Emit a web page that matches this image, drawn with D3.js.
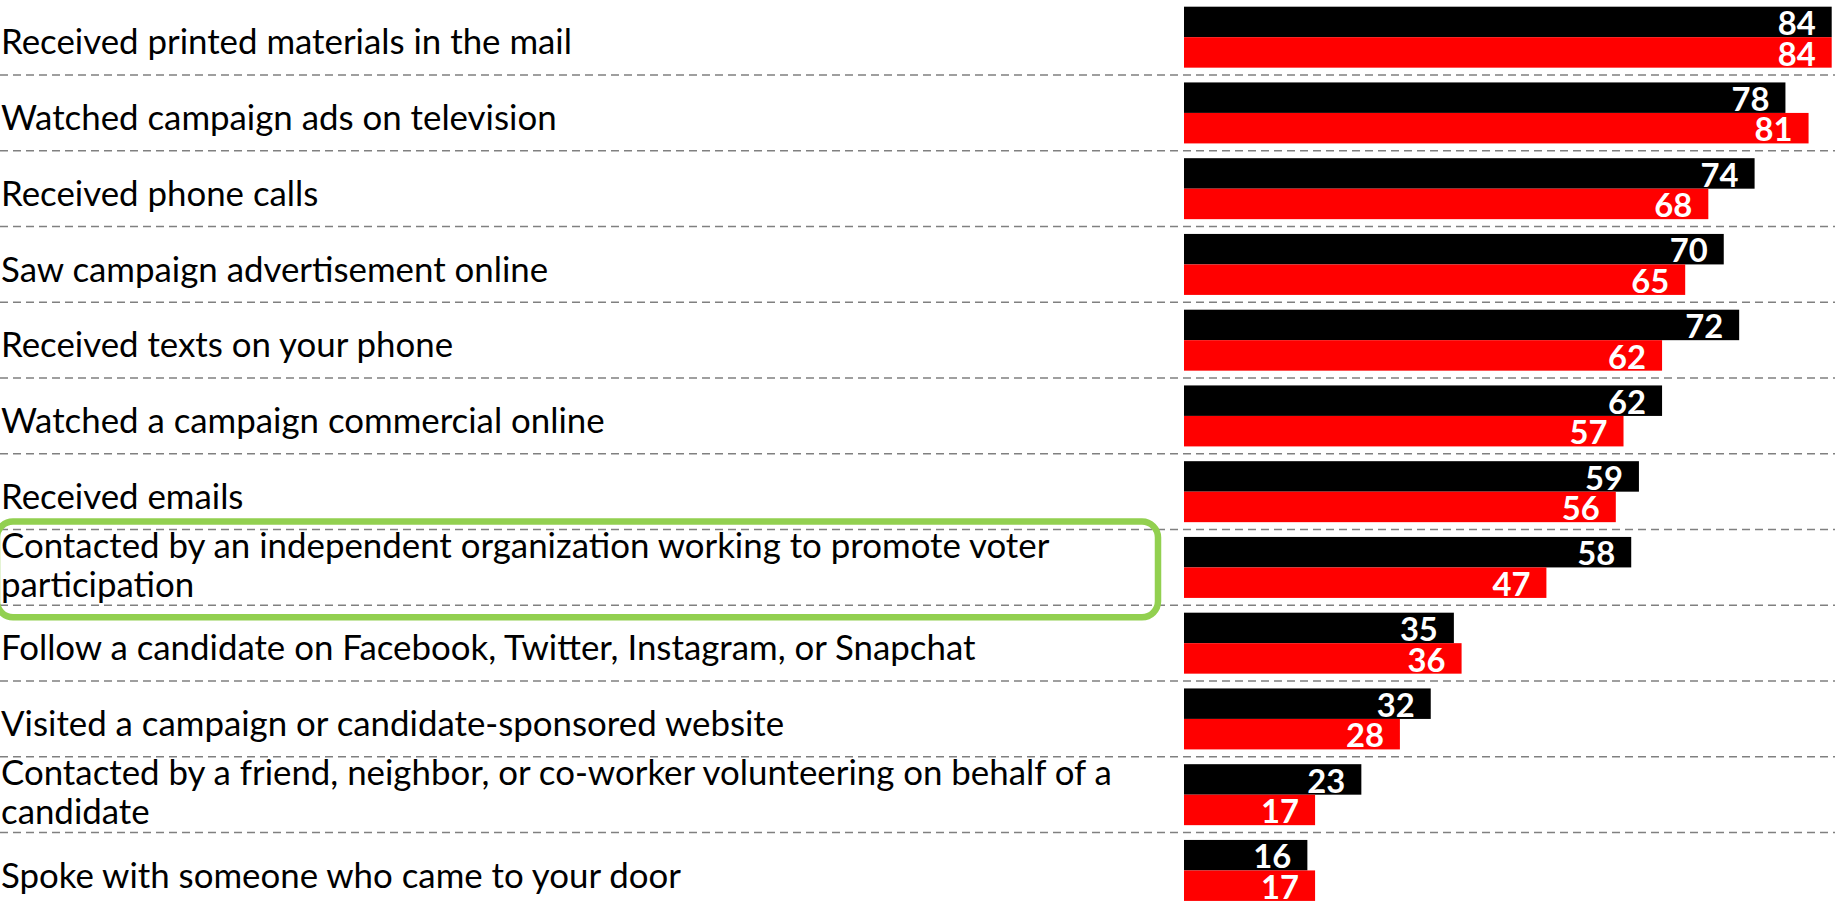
<!DOCTYPE html>
<html>
<head>
<meta charset="utf-8">
<title>Campaign contact</title>
<script src="https://d3js.org/d3.v7.min.js"></script>
<style>
    body { margin: 0; background: #fff; }
    svg { display: block; }
    .label { font-family: Lato, "Open Sans", sans-serif; fill: #000; }
    .value { font-family: Lato, "Open Sans", sans-serif; font-weight: bold; fill: #fff; }
    .rule { stroke: #808080; stroke-width: 1.5; stroke-dasharray: 8 5; }
    .highlight { fill: none; stroke: #92d050; stroke-width: 6.5; }
</style>
</head>
<body>
<div id="chart"></div>
<script>
    // Data, top to bottom
    const categories = [
        "Received printed materials in the mail",
        "Watched campaign ads on television",
        "Received phone calls",
        "Saw campaign advertisement online",
        "Received texts on your phone",
        "Watched a campaign commercial online",
        "Received emails",
        "Contacted by an independent organization working to promote voter participation",
        "Follow a candidate on Facebook, Twitter, Instagram, or Snapchat",
        "Visited a campaign or candidate-sponsored website",
        "Contacted by a friend, neighbor, or co-worker volunteering on behalf of a candidate",
        "Spoke with someone who came to your door"
    ];
    const seriesNames = ["Series 1", "Series 2"];
    const series1 = [84, 78, 74, 70, 72, 62, 59, 58, 35, 32, 23, 16];
    const series2 = [84, 81, 68, 65, 62, 57, 56, 47, 36, 28, 17, 17];
    const highlighted = "Contacted by an independent organization working to promote voter participation";

    const width = 1835, height = 901;

    const rows = categories.map((c, i) => ({
        cat: c,
        values: [
            { s: seriesNames[0], v: series1[i] },
            { s: seriesNames[1], v: series2[i] }
        ]
    }));

    // Scales
    const x = d3.scaleLinear()
        .domain([0, d3.max(series1.concat(series2))])
        .range([1184, 1831.7]);

    const y = d3.scaleBand()
        .domain(categories)
        .range([-0.7, -0.7 + categories.length * 75.75])
        .paddingInner(0.195)
        .paddingOuter(0.0975);

    const ySub = d3.scaleBand()
        .domain(seriesNames)
        .range([0, y.bandwidth()]);

    const color = d3.scaleOrdinal()
        .domain(seriesNames)
        .range(["#000000", "#ff0000"]);

    const gap = y.step() * y.paddingInner() / 2;
    const bandStart = c => y(c) - gap;

    const svg = d3.select("#chart").append("svg")
        .attr("width", width)
        .attr("height", height);

    // pick font sizes so the text widths match the original Calibri setting
    let probe = svg.append("text").attr("class", "label").style("font-size", "100px")
        .text("Received printed materials in the mail");
    const labelSize = 100 * 571 / probe.node().getComputedTextLength();
    probe.remove();
    probe = svg.append("text").attr("class", "value").style("font-size", "100px").text("84");
    const valueSize = 100 * 38 / probe.node().getComputedTextLength();
    probe.remove();

    // Dashed row separators
    svg.selectAll(".rule")
        .data(categories.slice(0, -1))
      .enter().append("line")
        .attr("class", "rule")
        .attr("x1", 0)
        .attr("x2", width)
        .attr("y1", d => y(d) + y.bandwidth() + gap)
        .attr("y2", d => y(d) + y.bandwidth() + gap);

    // Bars
    const row = svg.selectAll(".row")
        .data(rows)
      .enter().append("g")
        .attr("class", "row")
        .attr("transform", d => "translate(0," + y(d.cat) + ")");

    row.selectAll("rect")
        .data(d => d.values)
      .enter().append("rect")
        .attr("x", x(0))
        .attr("y", d => ySub(d.s))
        .attr("width", d => x(d.v) - x(0))
        .attr("height", ySub.bandwidth())
        .attr("fill", d => color(d.s));

    row.selectAll(".value")
        .data(d => d.values)
      .enter().append("text")
        .attr("class", "value")
        .style("font-size", valueSize + "px")
        .attr("x", d => x(d.v) - 16)
        .attr("y", d => ySub(d.s) + 28.5)
        .attr("text-anchor", "end")
        .text(d => d.v);

    // Category labels, wrapped like the table cells
    const maxWidth = 1150;
    categories.forEach(c => {
        const t = svg.append("text")
            .attr("class", "label")
            .style("font-size", labelSize + "px")
            .attr("x", 1);
        const words = c.split(" ");
        let lines = [], line = [];
        words.forEach(w => {
            t.text(line.concat(w).join(" "));
            if (line.length && t.node().getComputedTextLength() > maxWidth) {
                lines.push(line.join(" "));
                line = [w];
            } else {
                line.push(w);
            }
        });
        lines.push(line.join(" "));
        t.text(null);
        const first = lines.length > 1 ? 28 : 55;
        lines.forEach((l, i) => {
            t.append("tspan")
                .attr("x", 1)
                .attr("y", bandStart(c) + first + i * 39)
                .text(l);
        });
    });

    // Green highlight box
    svg.append("rect")
        .attr("class", "highlight")
        .attr("x", -3)
        .attr("y", bandStart(highlighted) - 8)
        .attr("width", 1161)
        .attr("height", y.step() + 20)
        .attr("rx", 16);
</script>
</body>
</html>
